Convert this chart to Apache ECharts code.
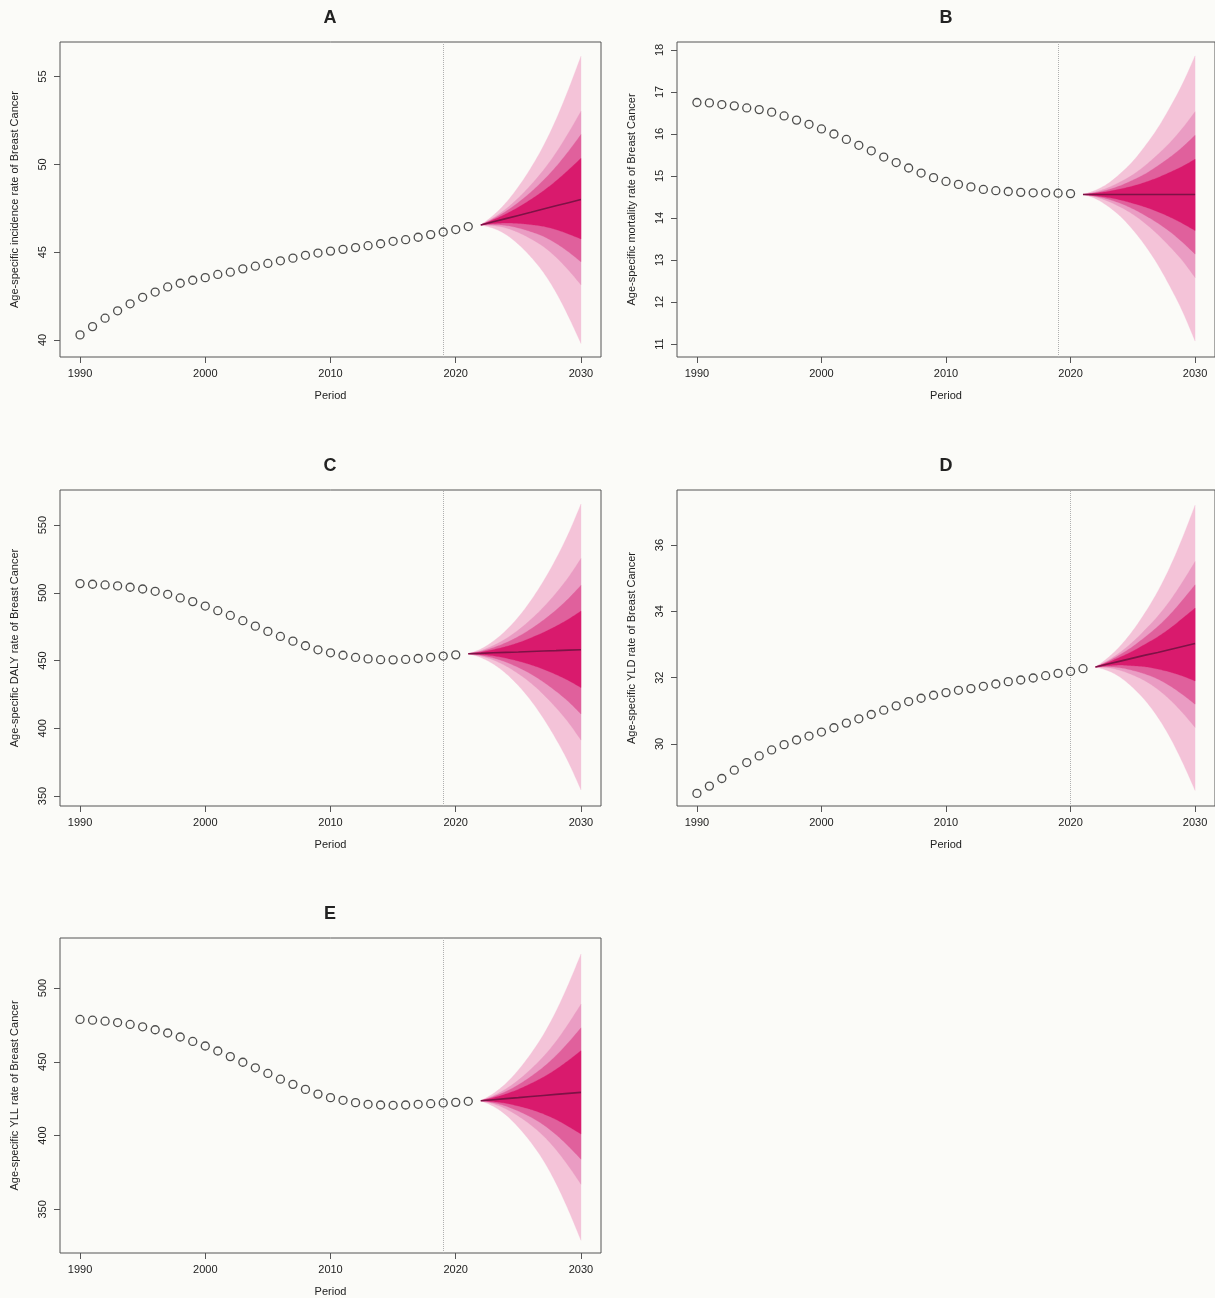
<!DOCTYPE html>
<html>
<head>
<meta charset="utf-8">
<script src="https://cdn.jsdelivr.net/npm/echarts@6/dist/echarts.min.js"></script>
<style>
html,body{margin:0;padding:0;background:#fbfbf8;}
#chart{width:1215px;height:1298px;}
</style>
</head>
<body>
<div id="chart"></div>
<script>
// ---------- observed years ----------
const obsYears32 = [1990,1991,1992,1993,1994,1995,1996,1997,1998,1999,2000,2001,2002,2003,2004,2005,2006,2007,2008,2009,2010,2011,2012,2013,2014,2015,2016,2017,2018,2019,2020,2021];
const obsYears31 = [1990,1991,1992,1993,1994,1995,1996,1997,1998,1999,2000,2001,2002,2003,2004,2005,2006,2007,2008,2009,2010,2011,2012,2013,2014,2015,2016,2017,2018,2019,2020];
const fanYears9  = [2022,2023,2024,2025,2026,2027,2028,2029,2030];
const fanYears10 = [2021,2022,2023,2024,2025,2026,2027,2028,2029,2030];
const xTicks = [1990,2000,2010,2020,2030];

// ---------- A: incidence ----------
const incObs = [40.29,40.76,41.24,41.66,42.06,42.43,42.73,43.02,43.23,43.40,43.55,43.73,43.86,44.05,44.20,44.36,44.51,44.66,44.82,44.95,45.06,45.16,45.26,45.37,45.48,45.62,45.71,45.85,46.00,46.15,46.29,46.46];
const incMed      = [46.55,46.73,46.91,47.09,47.27,47.46,47.64,47.82,48.00];
const incHiOuter  = [46.55,47.10,47.81,48.72,49.80,51.05,52.54,54.27,56.16];
const incLoOuter  = [46.55,46.36,46.01,45.45,44.73,43.85,42.72,41.34,39.80];
const incHiSecond = [46.55,46.96,47.46,48.09,48.83,49.67,50.65,51.79,53.02];
const incLoSecond = [46.55,46.51,46.38,46.12,45.76,45.32,44.72,43.98,43.14];
const incHiThird  = [46.55,46.90,47.32,47.83,48.42,49.09,49.86,50.74,51.70];
const incLoThird  = [46.55,46.57,46.52,46.38,46.17,45.90,45.51,45.02,44.45];
const incHiCore   = [46.55,46.84,47.17,47.56,48.00,48.49,49.05,49.68,50.35];
const incLoCore   = [46.55,46.63,46.66,46.64,46.57,46.47,46.29,46.04,45.75];
const incTicks = [40,45,50,55];

// ---------- B: mortality ----------
const mortObs = [16.75,16.74,16.70,16.67,16.62,16.58,16.52,16.43,16.33,16.23,16.12,16.00,15.87,15.73,15.60,15.45,15.32,15.19,15.07,14.96,14.87,14.80,14.74,14.68,14.65,14.63,14.61,14.60,14.60,14.59,14.58];
const mortMed      = [14.56,14.56,14.56,14.56,14.56,14.56,14.56,14.56,14.56,14.56];
const mortHiOuter  = [14.56,14.66,14.82,15.06,15.35,15.72,16.14,16.64,17.20,17.86];
const mortLoOuter  = [14.56,14.46,14.28,14.04,13.72,13.34,12.89,12.36,11.77,11.07];
const mortHiSecond = [14.56,14.62,14.72,14.86,15.03,15.25,15.51,15.80,16.14,16.53];
const mortLoSecond = [14.56,14.50,14.40,14.26,14.09,13.87,13.61,13.31,12.98,12.58];
const mortHiThird  = [14.56,14.60,14.67,14.77,14.90,15.05,15.24,15.45,15.69,15.97];
const mortLoThird  = [14.56,14.52,14.45,14.35,14.22,14.06,13.88,13.67,13.42,13.14];
const mortHiCore   = [14.56,14.59,14.63,14.69,14.76,14.85,14.96,15.09,15.23,15.40];
const mortLoCore   = [14.56,14.53,14.49,14.43,14.35,14.26,14.15,14.02,13.87,13.70];
const mortTicks = [11,12,13,14,15,16,17,18];

// ---------- C: DALY ----------
const dalyObs = [506.8,506.3,505.8,505.1,504.1,502.8,501.1,498.9,496.2,493.5,490.2,486.8,483.3,479.4,475.4,471.5,467.8,464.3,460.9,457.9,455.7,453.9,452.3,451.2,450.6,450.5,450.8,451.5,452.4,453.3,454.2];
const dalyMed      = [455.0,455.3,455.7,456.0,456.3,456.7,457.0,457.3,457.7,458.0];
const dalyHiOuter  = [455.0,458.5,464.3,472.1,482.1,494.3,508.6,525.0,543.7,565.5];
const dalyLoOuter  = [455.0,452.2,447.4,440.5,431.5,420.5,407.3,392.1,374.9,354.5];
const dalyHiSecond = [455.0,457.3,461.1,466.1,472.5,480.3,489.3,499.7,511.5,525.3];
const dalyLoSecond = [455.0,453.3,450.4,446.0,440.3,433.4,425.0,415.3,404.3,391.3];
const dalyHiThird  = [455.0,456.7,459.5,463.1,467.7,473.3,479.8,487.2,495.7,505.5];
const dalyLoThird  = [455.0,453.9,451.9,448.9,444.9,440.1,434.2,427.4,419.7,410.5];
const dalyHiCore   = [455.0,456.2,458.0,460.3,463.1,466.7,470.7,475.3,480.5,486.5];
const dalyLoCore   = [455.0,454.5,453.5,451.8,449.6,446.9,443.6,439.7,435.3,430.0];
const dalyTicks = [350,400,450,500,550];

// ---------- D: YLD ----------
const yldObs = [28.51,28.73,28.96,29.21,29.44,29.64,29.82,29.98,30.12,30.24,30.36,30.49,30.63,30.76,30.89,31.02,31.15,31.28,31.38,31.47,31.55,31.62,31.67,31.74,31.81,31.88,31.93,31.99,32.06,32.13,32.19,32.27];
const yldMed      = [32.32,32.41,32.50,32.59,32.68,32.76,32.85,32.94,33.03];
const yldHiOuter  = [32.32,32.60,32.96,33.42,33.97,34.60,35.35,36.23,37.20];
const yldLoOuter  = [32.32,32.21,32.01,31.70,31.31,30.81,30.19,29.44,28.60];
const yldHiSecond = [32.32,32.52,32.77,33.08,33.45,33.85,34.33,34.89,35.50];
const yldLoSecond = [32.32,32.30,32.22,32.08,31.90,31.65,31.33,30.94,30.50];
const yldHiThird  = [32.32,32.49,32.70,32.94,33.23,33.54,33.91,34.34,34.80];
const yldLoThird  = [32.32,32.33,32.30,32.22,32.11,31.96,31.75,31.49,31.20];
const yldHiCore   = [32.32,32.46,32.62,32.80,33.01,33.23,33.49,33.79,34.10];
const yldLoCore   = [32.32,32.36,32.38,32.36,32.33,32.26,32.17,32.05,31.90];
const yldTicks = [30,32,34,36];

// ---------- E: YLL ----------
const yllObs = [478.7,478.2,477.5,476.6,475.3,473.7,471.7,469.5,466.8,463.8,460.7,457.3,453.5,449.7,445.9,442.1,438.2,434.7,431.3,428.1,425.7,423.9,422.3,421.2,420.7,420.5,420.7,421.2,421.6,422.1,422.5,423.2];
const yllMed      = [423.6,424.3,425.0,425.7,426.5,427.2,427.9,428.6,429.3];
const yllHiOuter  = [423.6,428.5,435.3,444.4,455.5,468.4,484.1,502.6,523.0];
const yllLoOuter  = [423.6,419.8,414.0,405.6,395.4,383.1,367.7,349.4,329.0];
const yllHiSecond = [423.6,427.0,431.6,437.6,445.0,453.5,463.7,475.8,489.0];
const yllLoSecond = [423.6,421.5,418.1,413.2,407.2,399.8,390.5,379.4,367.0];
const yllHiThird  = [423.6,426.3,429.8,434.4,440.0,446.4,454.1,463.1,473.0];
const yllLoThird  = [423.6,422.3,420.0,416.6,412.5,407.3,400.7,392.8,384.0];
const yllHiCore   = [423.6,425.6,428.1,431.3,435.2,439.6,444.8,450.9,457.5];
const yllLoCore   = [423.6,423.0,421.9,420.0,417.7,414.7,410.9,406.2,401.0];
const yllTicks = [350,400,450,500];

// ---------- panel descriptions ----------
const panels = [
  {title:'A', yName:'Age-specific incidence rate of Breast Cancer', obsX:obsYears32, obs:incObs, fanX:fanYears9, med:incMed,
   bands:[[incLoOuter,incHiOuter],[incLoSecond,incHiSecond],[incLoThird,incHiThird],[incLoCore,incHiCore]], yMin:39.03, yMax:56.97, yTicks:incTicks, vline:2019},
  {title:'B', yName:'Age-specific mortality rate of Breast Cancer', obsX:obsYears31, obs:mortObs, fanX:fanYears10, med:mortMed,
   bands:[[mortLoOuter,mortHiOuter],[mortLoSecond,mortHiSecond],[mortLoThird,mortHiThird],[mortLoCore,mortHiCore]], yMin:10.69, yMax:18.19, yTicks:mortTicks, vline:2019},
  {title:'C', yName:'Age-specific DALY rate of Breast Cancer', obsX:obsYears31, obs:dalyObs, fanX:fanYears10, med:dalyMed,
   bands:[[dalyLoOuter,dalyHiOuter],[dalyLoSecond,dalyHiSecond],[dalyLoThird,dalyHiThird],[dalyLoCore,dalyHiCore]], yMin:342.6, yMax:575.9, yTicks:dalyTicks, vline:2019},
  {title:'D', yName:'Age-specific YLD rate of Breast Cancer', obsX:obsYears32, obs:yldObs, fanX:fanYears9, med:yldMed,
   bands:[[yldLoOuter,yldHiOuter],[yldLoSecond,yldHiSecond],[yldLoThird,yldHiThird],[yldLoCore,yldHiCore]], yMin:28.13, yMax:37.66, yTicks:yldTicks, vline:2020},
  {title:'E', yName:'Age-specific YLL rate of Breast Cancer', obsX:obsYears32, obs:yllObs, fanX:fanYears9, med:yllMed,
   bands:[[yllLoOuter,yllHiOuter],[yllLoSecond,yllHiSecond],[yllLoThird,yllHiThird],[yllLoCore,yllHiCore]], yMin:320.4, yMax:533.9, yTicks:yllTicks, vline:2019}
];

// layout (pixels)
const layout = [
  {left:60,  top:42,  width:541, height:315, tx:330},
  {left:677, top:42,  width:541, height:315, tx:946},
  {left:60,  top:490, width:541, height:316, tx:330},
  {left:677, top:490, width:541, height:316, tx:946},
  {left:60,  top:938, width:541, height:317, tx:330}
];
const bandColors = ['#f4c3d8','#ea9cc3','#e0609c','#d91a6d'];
const FONT = 'Liberation Sans, Arial, Helvetica, sans-serif';

// Catmull-Rom smoothing of pixel points (rendering only)
function smoothPts(P) {
  const out = [P[0]];
  const n = P.length;
  for (let i = 0; i < n - 1; i++) {
    const p0 = P[Math.max(i - 1, 0)], p1 = P[i], p2 = P[i + 1], p3 = P[Math.min(i + 2, n - 1)];
    const c1 = [p1[0] + (p2[0] - p0[0]) / 6, p1[1] + (p2[1] - p0[1]) / 6];
    const c2 = [p2[0] - (p3[0] - p1[0]) / 6, p2[1] - (p3[1] - p1[1]) / 6];
    for (let s = 1; s <= 10; s++) {
      const t = s / 10, u = 1 - t;
      out.push([
        u*u*u*p1[0] + 3*u*u*t*c1[0] + 3*u*t*t*c2[0] + t*t*t*p2[0],
        u*u*u*p1[1] + 3*u*u*t*c1[1] + 3*u*t*t*c2[1] + t*t*t*p2[1]
      ]);
    }
  }
  return out;
}

const grids = [], xAxes = [], yAxes = [], series = [], graphics = [];
panels.forEach((p, i) => {
  const L = layout[i];
  grids.push({left:L.left, top:L.top, width:L.width, height:L.height, show:true, borderColor:'#555', borderWidth:1, backgroundColor:'transparent'});
  xAxes.push({
    gridIndex:i, type:'value', min:1988.4, max:2031.6,
    name:'Period', nameLocation:'middle', nameGap:33,
    nameTextStyle:{fontFamily:FONT, fontSize:11, color:'#222'},
    axisLine:{show:false}, splitLine:{show:false},
    axisTick:{show:true, length:6, lineStyle:{color:'#555'}, customValues:xTicks},
    axisLabel:{show:true, margin:11, fontFamily:FONT, fontSize:11, color:'#222', customValues:xTicks, formatter:(v)=>String(v)}
  });
  yAxes.push({
    gridIndex:i, type:'value', min:p.yMin, max:p.yMax,
    name:p.yName, nameLocation:'middle', nameGap:40, nameRotate:90,
    nameTextStyle:{fontFamily:FONT, fontSize:11, color:'#222'},
    axisLine:{show:false}, splitLine:{show:false},
    axisTick:{show:true, length:6, lineStyle:{color:'#555'}, customValues:p.yTicks},
    axisLabel:{show:true, rotate:90, margin:12, fontFamily:FONT, fontSize:11, color:'#222', customValues:p.yTicks, formatter:(v)=>String(v)}
  });
  // fan bands, outermost first
  p.bands.forEach((b, j) => {
    const lo = b[0], hi = b[1];
    series.push({
      type:'custom', coordinateSystem:'cartesian2d', xAxisIndex:i, yAxisIndex:i, silent:true, z:2,
      data:[[p.fanX[0], p.med[0]]],
      renderItem:function(params, api) {
        const up = p.fanX.map((x,k)=>api.coord([x, hi[k]]));
        const dn = p.fanX.map((x,k)=>api.coord([x, lo[k]]));
        const pts = smoothPts(up).concat(smoothPts(dn).reverse());
        return {type:'polygon', shape:{points:pts}, style:{fill:bandColors[j], stroke:bandColors[j], lineWidth:0.3}};
      }
    });
  });
  // median projection line
  series.push({
    type:'line', xAxisIndex:i, yAxisIndex:i, silent:true, symbol:'none',
    lineStyle:{color:'#7e1246', width:1.6},
    data:p.fanX.map((x,k)=>[x, p.med[k]]), z:4
  });
  // observed points + vertical dotted line
  series.push({
    type:'scatter', xAxisIndex:i, yAxisIndex:i, silent:true, symbol:'circle', symbolSize:8,
    itemStyle:{color:'rgba(0,0,0,0)', borderColor:'#222', borderWidth:1.3},
    data:p.obsX.map((x,k)=>[x, p.obs[k]]), z:5,
    markLine:{silent:true, symbol:['none','none'], label:{show:false},
      lineStyle:{color:'#b0b0b0', type:'dotted', width:1}, data:[{xAxis:p.vline}], z:1}
  });
  graphics.push({
    type:'text', x:L.tx, y:L.top - 24,
    style:{text:p.title, font:'bold 18px ' + FONT, fill:'#222', textAlign:'center', textVerticalAlign:'middle'}
  });
});

const chart = echarts.init(document.getElementById('chart'), null, {renderer:'canvas'});
chart.setOption({
  backgroundColor:'#fbfbf8',
  animation:false,
  grid:grids, xAxis:xAxes, yAxis:yAxes, series:series, graphic:graphics
});
</script>
</body>
</html>
